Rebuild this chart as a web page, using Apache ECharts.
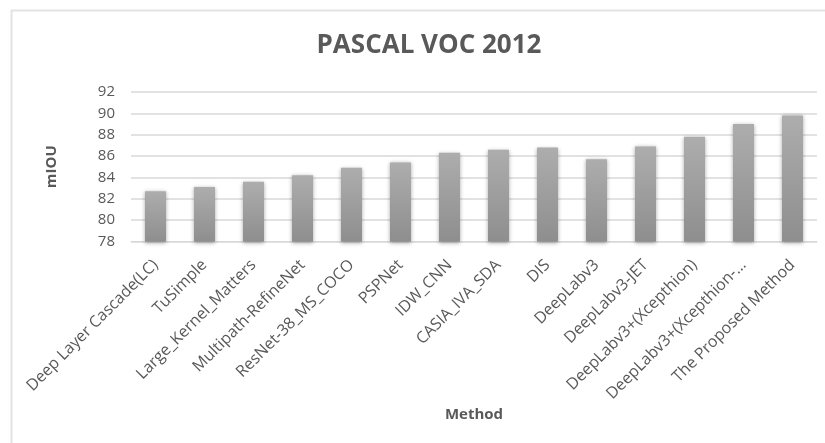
<!DOCTYPE html>
<html>
<head>
<meta charset="utf-8">
<script src="https://cdn.jsdelivr.net/npm/echarts@6/dist/echarts.min.js"></script>
<style>
  html, body { margin: 0; padding: 0; background: #fff; }
  #chart { width: 825px; height: 443px; }
</style>
</head>
<body>
<div id="chart"></div>
<script>
// Methods compared on PASCAL VOC 2012 and their mIOU scores
const methods = [
  'Deep Layer Cascade(LC)', 'TuSimple', 'Large_Kernel_Matters', 'Multipath-RefineNet',
  'ResNet-38_MS_COCO', 'PSPNet', 'IDW_CNN', 'CASIA_IVA_SDA', 'DIS', 'DeepLabv3',
  'DeepLabv3-JET', 'DeepLabv3+(Xcepthion)', 'DeepLabv3+(Xcepthion-…', 'The Proposed Method'
];
const miou = [82.7, 83.1, 83.6, 84.2, 84.9, 85.4, 86.3, 86.6, 86.8, 85.7, 86.9, 87.8, 89.0, 89.8];
const yTicks = { min: 78, max: 92, step: 2 };

const textGray = '#595959';
const font = 'Open Sans';

const chart = echarts.init(document.getElementById('chart'), null, { renderer: 'canvas' });
chart.setOption({
  animation: false,
  backgroundColor: '#ffffff',
  title: {
    text: 'PASCAL VOC 2012',
    left: 424,
    top: 28,
    textAlign: 'center',
    textStyle: { fontFamily: font, fontWeight: 'bold', fontSize: 26, color: textGray }
  },
  graphic: [
    { type: 'line', shape: { x1: 11, y1: 10.5, x2: 825, y2: 10.5 }, style: { stroke: '#e3e3e3', lineWidth: 2 } },
    { type: 'line', shape: { x1: 11.5, y1: 10, x2: 11.5, y2: 443 }, style: { stroke: '#e3e3e3', lineWidth: 2 } }
  ],
  grid: { left: 131, right: 8, top: 92, bottom: 201.5, containLabel: false },
  xAxis: {
    type: 'category',
    data: methods,
    name: 'Method',
    nameLocation: 'middle',
    nameGap: 166,
    nameTextStyle: { fontFamily: font, fontWeight: 'bold', fontSize: 15, color: textGray },
    axisLine: { show: true, lineStyle: { color: '#d9d9d9', width: 1 } },
    axisTick: { show: false },
    axisLabel: {
      interval: 0,
      rotate: 45,
      margin: 21,
      fontFamily: font,
      fontSize: 16,
      color: textGray
    }
  },
  yAxis: {
    type: 'value',
    min: yTicks.min,
    max: yTicks.max,
    interval: yTicks.step,
    name: 'mIOU',
    nameLocation: 'middle',
    nameGap: 72,
    nameRotate: 90,
    nameTextStyle: { fontFamily: font, fontWeight: 'bold', fontSize: 15, color: textGray },
    axisLine: { show: false },
    axisTick: { show: false },
    axisLabel: { margin: 16, fontFamily: font, fontSize: 15, color: textGray },
    splitLine: { lineStyle: { color: '#d9d9d9', width: 1.5 } }
  },
  series: [{
    type: 'bar',
    data: miou,
    barWidth: 21,
    itemStyle: {
      color: new echarts.graphic.LinearGradient(0, 0, 0, 1, [
        { offset: 0, color: '#adadad' },
        { offset: 1, color: '#8e8e8e' }
      ]),
      shadowColor: 'rgba(0,0,0,0.35)',
      shadowBlur: 4,
      shadowOffsetY: 1
    }
  }]
});
</script>
</body>
</html>
